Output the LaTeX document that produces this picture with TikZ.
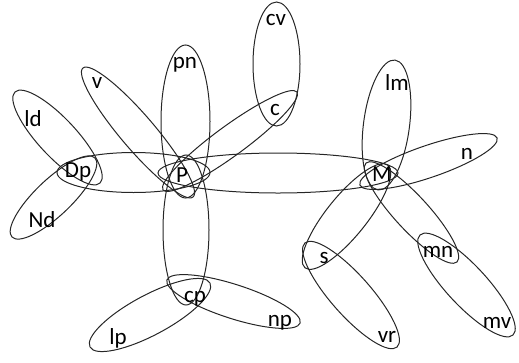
\documentclass[tikz,border=0pt]{standalone}
\usepackage{fontspec}
\setmainfont{Carlito}
\newcommand{\hypell}[5]{\draw[ell, rotate around={-#3:(#1,#2)}] (#1,#2) ellipse (#4 and #5);}
\begin{document}
\begin{tikzpicture}[x=1pt,y=-1pt,
  ell/.style={draw=black!85, line width=1pt},
  lab/.style={font=\fontsize{23}{23}\selectfont, anchor=base, inner sep=0pt, text=black}]
\useasboundingbox (0,0) rectangle (519,362);
\hypell{57.5}{137.5}{47.0}{62.3}{19}     % ld-Dp
\hypell{53.5}{197.5}{-43.6}{57.3}{18}    % Nd-Dp
\hypell{133.5}{172.5}{0}{76.5}{20}       % Dp-P
\hypell{278}{173}{0}{120}{20}            % P-M
\hypell{138}{132.5}{49.5}{84.8}{17}      % v-P
\hypell{185.5}{121.5}{90}{76.5}{24.5}    % pn-P
\hypell{230}{141}{-36.2}{83}{15}         % P-c
\hypell{276.5}{64}{90}{62}{23.5}         % cv-c
\hypell{186}{230}{90}{75}{23}            % P-cp
\hypell{150}{315}{-28.1}{68}{20}         % cp-lp
\hypell{233.5}{301.5}{17.9}{70}{17}      % cp-np
\hypell{386.5}{125}{97.5}{65.5}{23}      % lm-M
\hypell{428.5}{161.5}{-18.9}{72.5}{16}   % M-n
\hypell{346.5}{216.5}{-51.1}{66}{20}     % M-s
\hypell{351}{295}{48.5}{69.5}{20}        % s-vr
\hypell{411.5}{212.5}{47.4}{67.2}{17}    % M-mn
\hypell{466.5}{285}{47.1}{68.3}{20}      % mn-mv
\node[lab] (cv) at (276,25) {cv};
\node[lab] (c) at (275,115) {c};
\node[lab] (lm) at (397,90) {lm};
\node[lab] (n) at (467,159) {n};
\node[lab] (M) at (382,181) {M};
\node[lab] (pn) at (185,68) {pn};
\node[lab] (v) at (97,88) {v};
\node[lab] (ld) at (33,126) {ld};
\node[lab] (Dp) at (78,177) {Dp};
\node[lab] (P) at (182,182) {P};
\node[lab] (Nd) at (42,227) {Nd};
\node[lab] (s) at (324,263) {s};
\node[lab] (mn) at (438,257) {mn};
\node[lab] (cp) at (195,302) {cp};
\node[lab] (np) at (280,326) {np};
\node[lab] (lp) at (118,344) {lp};
\node[lab] (vr) at (387,342) {vr};
\node[lab] (mv) at (497,328) {mv};
\end{tikzpicture}
\end{document}
